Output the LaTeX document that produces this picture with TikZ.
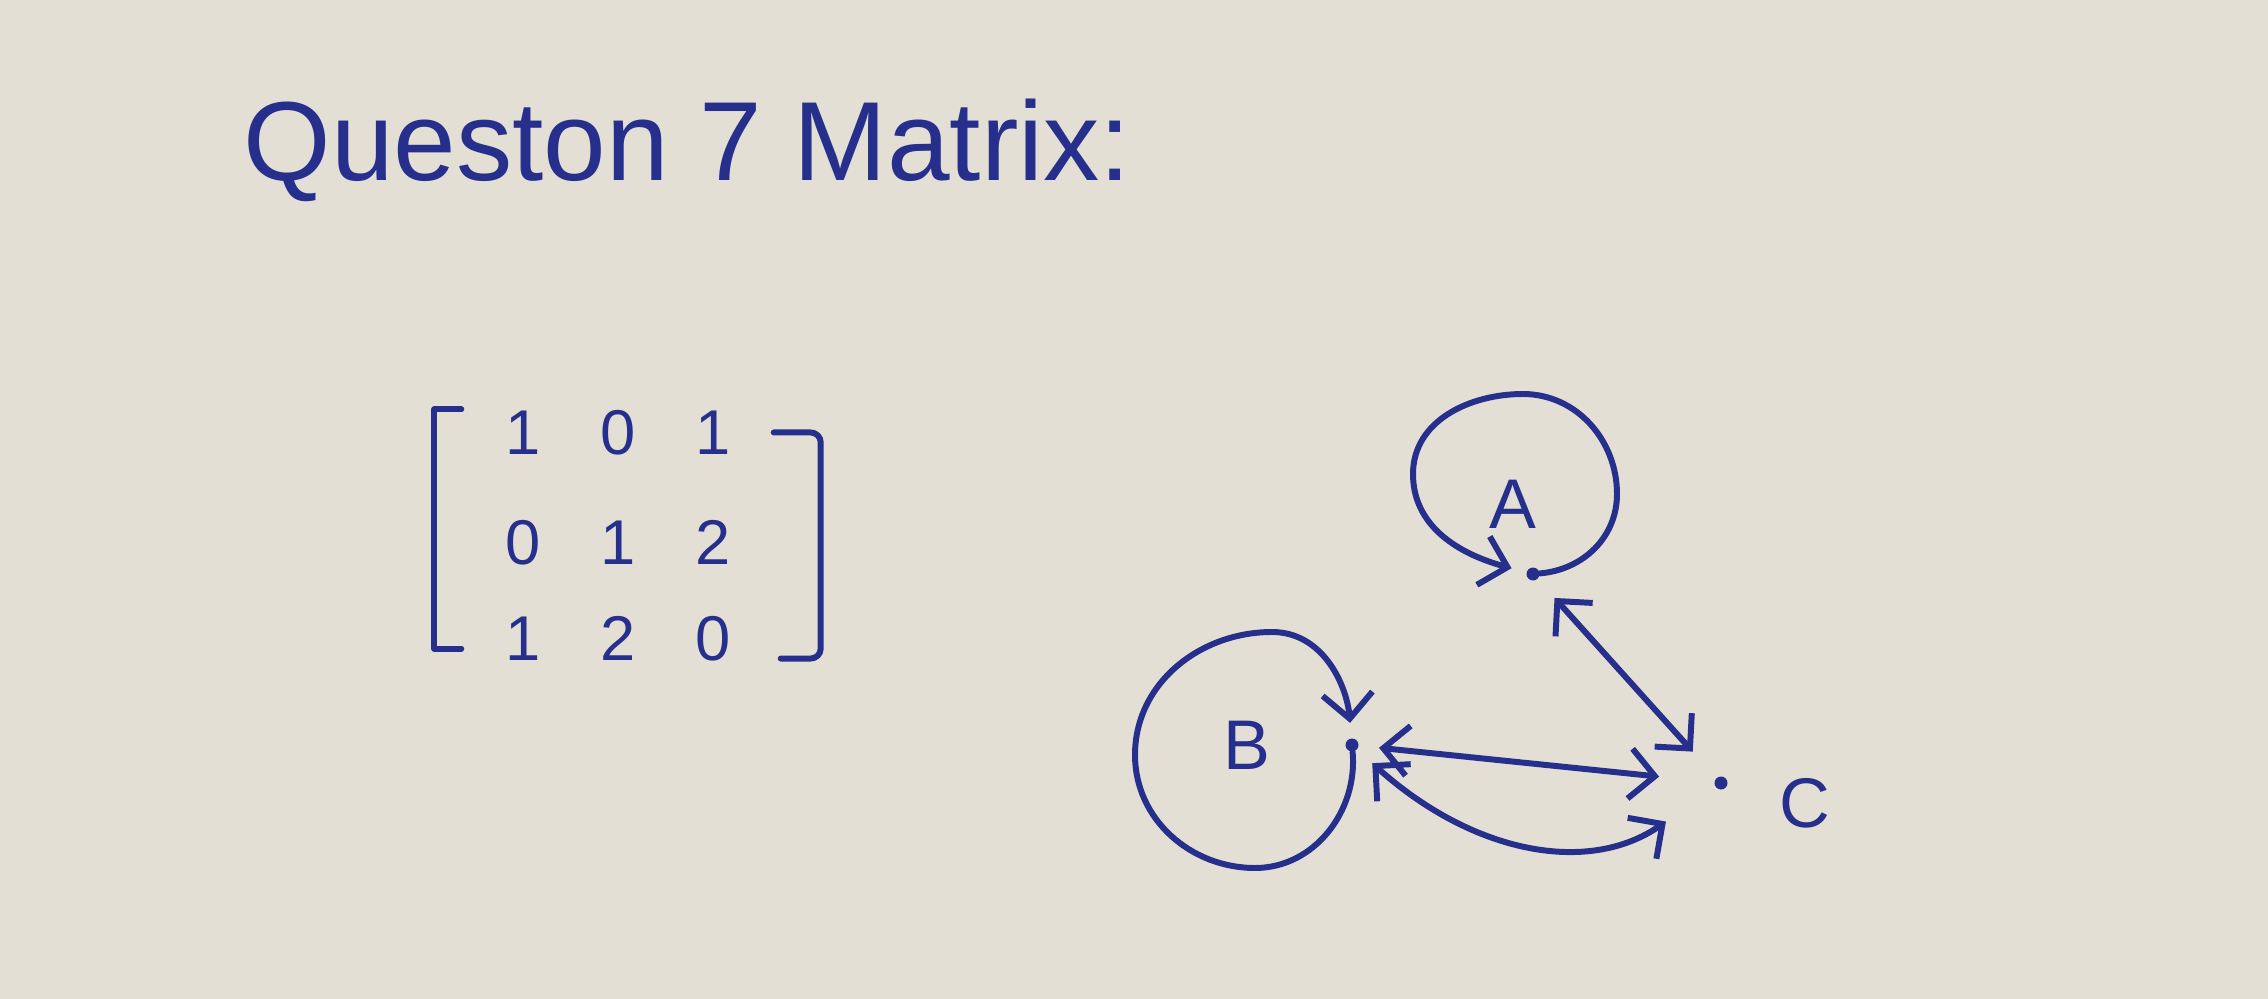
\documentclass[tikz,border=0pt]{standalone}
\usepackage{fontspec}
\setmainfont{Liberation Sans}
\usetikzlibrary{arrows.meta,calc,matrix,positioning}
\definecolor{ink}{RGB}{38,48,140}
\definecolor{paper}{RGB}{227,223,213}
\tikzset{%
	pen/.style      = {draw=ink, line width=1.7pt, line cap=round, line join=round},
	vertex/.style   = {circle, fill=ink, inner sep=0pt, minimum size=1.3mm},
	lbl/.style      = {text=ink, font=\fontsize{20}{24}\selectfont, inner sep=0pt},
	entry/.style    = {text=ink, font=\fontsize{18}{22}\selectfont, inner sep=0pt, minimum size=4.5mm},
	edge/.style     = {pen, {Straight Barb[length=2.5mm,width=5mm]}-{Straight Barb[length=2.5mm,width=5mm]}},
	loopedge/.style = {pen, -{Straight Barb[length=2.5mm,width=5mm]}},
}

\begin{document}
\begin{tikzpicture}
	\fill[paper] (0,0) rectangle (22.68,-9.99);
	\useasboundingbox (0,0) rectangle (22.68,-9.99);
	% heading
	\node[anchor=base west, text=ink, font=\fontsize{32}{38}\selectfont, inner sep=0pt] (title) at (2.43,-1.81) {Queston 7 Matrix:};
	% matrix
	\matrix (M) [matrix of nodes, nodes={entry}, inner sep=0pt, column sep=5mm, row sep=5mm] at (6.185,-5.355) {
		1 & 0 & 1 \\[1.5mm]
		0 & 1 & 2 \\
		1 & 2 & 0 \\
	};
	\draw[pen] ($(M.north west)+(-0.39,0)$) -- ($(M.north west)+(-0.66,0)$) -- ($(M.south west)+(-0.66,0.13)$) -- ($(M.south west)+(-0.39,0.13)$);
	\draw[pen, rounded corners=1mm] ($(M.north east)+(0.37,-0.23)$) -- ($(M.north east)+(0.84,-0.23)$) -- ($(M.south east)+(0.84,0.03)$) -- ($(M.south east)+(0.44,0.03)$);
	% graph
	\node[vertex] (A) at (15.33,-5.74) {};
	\node[vertex] (B) at (13.52,-7.45) {};
	\node[vertex] (C) at (17.21,-7.83) {};
	\node[lbl, above of=A, node distance=7mm, xshift=-2mm] (Alab) {A};
	\node[lbl, left of=B, node distance=10.5mm] (Blab) {B};
	\node[lbl, right of=C, node distance=8.4mm, yshift=-2mm] (Clab) {C};
	\draw[loopedge, shorten >=1.5mm] (A) to[out=5,in=-90] ($(A)+(0.84,0.8)$) to[out=90,in=0] ($(A)+(-0.1,1.8)$)
		to[out=180,in=90] ($(A)+(-1.2,1.0)$) to[out=-90,in=165] (A);
	\draw[loopedge, shorten >=1.5mm] (B) to[out=-85,in=0] ($(B)+(-0.97,-1.23)$) to[out=180,in=-90] ($(B)+(-2.17,-0.1)$)
		to[out=90,in=180] ($(B)+(-0.8,1.13)$) to[out=0,in=95] (B);
	\draw[edge, shorten <=2.5mm, shorten >=3.5mm] (A) -- (C);
	\draw[edge, shorten <=2mm, shorten >=5.5mm] (B) -- (C);
	\draw[edge, shorten <=2mm, shorten >=6mm] (B) to[out=-42, in=-145, looseness=1.1] (C);
\end{tikzpicture}
\end{document}
